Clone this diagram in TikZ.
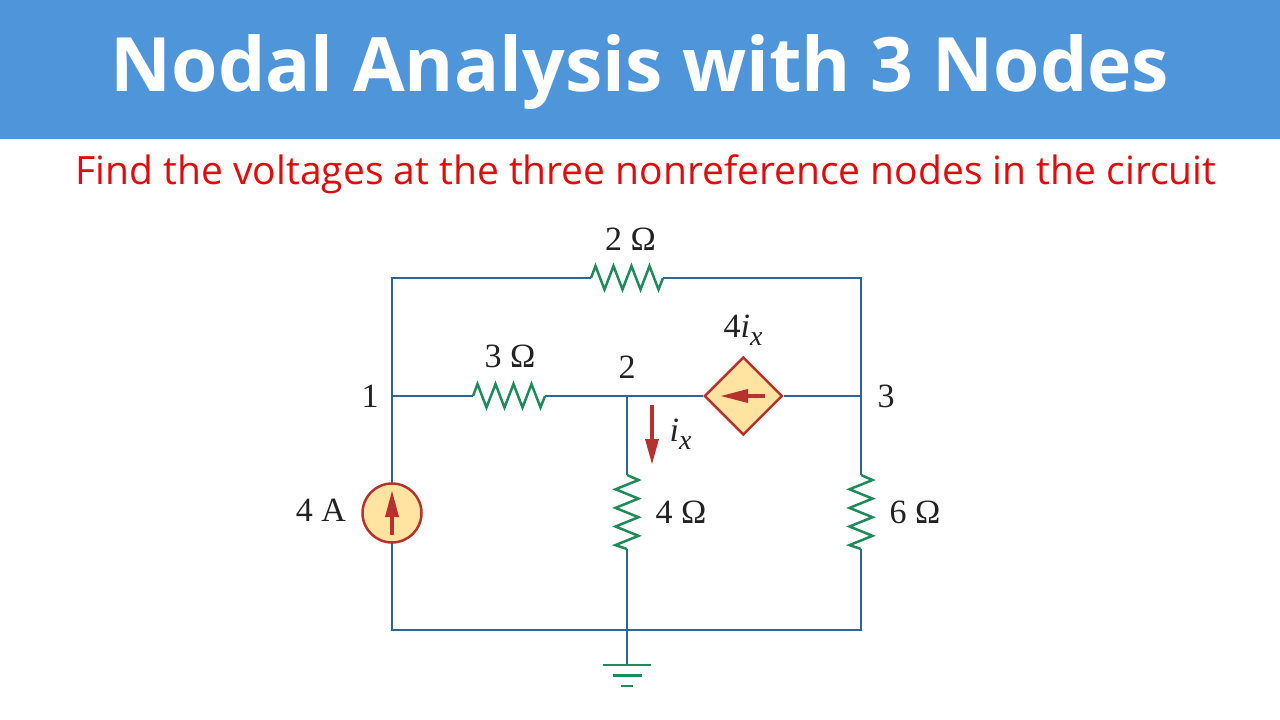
\documentclass[tikz,border=0pt]{standalone}
\usepackage{fontspec}
\setmainfont{Liberation Serif}
\newfontfamily\headfont{Open Sans}
\usetikzlibrary{shapes.geometric}
\definecolor{wirec}{HTML}{2F6496}
\definecolor{resc}{HTML}{1F8A5A}
\definecolor{srcfill}{HTML}{FFE3A0}
\definecolor{srcline}{HTML}{B5322E}
\definecolor{band}{HTML}{4F95D9}
\definecolor{subred}{HTML}{E00C0C}
\definecolor{inkc}{HTML}{222222}
\newcommand{\subx}{\raisebox{-8.5pt}{\fontsize{28}{30}\selectfont\textit{x}}}
\tikzset{
  x=1pt,y=-1pt,
  wire/.style={draw=wirec,line width=2.5pt,line join=miter},
  res/.style={draw=resc,line width=2.5pt,line join=miter},
  gnd/.style={draw=resc,line width=2.5pt},
  srcarrow/.style={draw=srcline,line width=3.5pt},
  srchead/.style={fill=srcline,draw=none},
  lab/.style={anchor=base,font=\fontsize{34}{36}\selectfont,text=inkc,inner sep=0pt,outer sep=0pt},
  csrc/.style={circle,draw=srcline,fill=srcfill,line width=2.5pt,minimum size=59pt,inner sep=0pt},
  dsrc/.style={diamond,draw=srcline,fill=srcfill,line width=2.5pt,minimum size=78pt,inner sep=0pt}
}
\begin{document}
\begin{tikzpicture}
\useasboundingbox (0,0) rectangle (1280,720);
\fill[white] (0,0) rectangle (1280,720);
\fill[band] (0,0) rectangle (1280,139);
\node[anchor=base,inner sep=0pt,text=white,font=\fontsize{75}{77}\selectfont\headfont\bfseries] (title) at (640,91) {Nodal Analysis with 3 Nodes};
\node[anchor=base,inner sep=0pt,text=subred,font=\fontsize{39}{41}\selectfont\headfont] (subtitle) at (646,184) {Find the voltages at the three nonreference nodes in the circuit};
% junctions
\coordinate (tl) at (392,278);
\coordinate (tr) at (861,278);
\coordinate (n1) at (392,396);
\coordinate (n2) at (627,396);
\coordinate (n3) at (861,396);
\coordinate (bl) at (392,630);
\coordinate (bm) at (627,630);
\coordinate (br) at (861,630);
\coordinate (g) at (627,665);
% resistor ends
\coordinate (r2a) at (591,278);   \coordinate (r2b) at (663,278);
\coordinate (r3a) at (473,396); \coordinate (r3b) at (545,396);
\coordinate (r4a) at (627,475);   \coordinate (r4b) at (627,549);
\coordinate (r6a) at (861,475);   \coordinate (r6b) at (861,549);
% sources
\draw[wire] (r2a) -- (tl) -- (bl) -- (br) -- (r6b);
\node[csrc] (is) at (392,513) {};
\node[dsrc] (ds) at (743.3,396) {};
% wires
\draw[wire] (r2b) -- (tr) -- (r6a);
\draw[wire] (n1) -- (r3a);
\draw[wire] (r3b) -- (ds.west);
\draw[wire] (ds.east) -- (n3);
\draw[wire] (n2) -- (r4a);
\draw[wire] (r4b) -- (bm) -- (g);
% resistors
\draw[res] (r2a) -- ++(4.5,-12) -- ++(9,23.5) -- ++(9,-23.5) -- ++(9,23.5) -- ++(9,-23.5) -- ++(9,23.5) -- ++(9,-23.5) -- ++(9,23.5) -- (r2b);
\draw[res] (r3a) -- ++(4.5,-12) -- ++(9,23.5) -- ++(9,-23.5) -- ++(9,23.5) -- ++(9,-23.5) -- ++(9,23.5) -- ++(9,-23.5) -- ++(9,23.5) -- (r3b);
\draw[res] (r4a) -- ++(11.5,5) -- ++(-23,9.3) -- ++(23,9.3) -- ++(-23,9.3) -- ++(23,9.3) -- ++(-23,9.3) -- ++(23,9.3) -- ++(-23,9.3) -- (r4b);
\draw[res] (r6a) -- ++(11.5,5) -- ++(-23,9.3) -- ++(23,9.3) -- ++(-23,9.3) -- ++(23,9.3) -- ++(-23,9.3) -- ++(23,9.3) -- ++(-23,9.3) -- (r6b);
% ground
\draw[gnd] (603,665) -- (651,665);
\draw[gnd] (612.5,675.7) -- (641.5,675.7);
\draw[gnd] (621,686) -- (633,686);
% source arrows
\draw[srcarrow] (392,535) -- (392,515);
\fill[srchead] (392,491) -- (399,517) -- (385,517) -- cycle;
\draw[srcarrow] (765,396) -- (746,396);
\fill[srchead] (721,396) -- (748,389) -- (748,403) -- cycle;
\draw[srcarrow] (652,405) -- (652,441);
\fill[srchead] (652,464) -- (645,439) -- (659,439) -- cycle;
% labels
\node[lab] (l2o) at (630.5,250) {2 Ω};
\node[lab] (l3o) at (510,367) {3 Ω};
\node[lab] (ln2) at (627,378) {2};
\node[lab] (ln1) at (370,407) {1};
\node[lab] (ln3) at (886,407) {3};
\node[lab] (l4i) at (743,337) {4\textit{i}\subx};
\node[lab] (lix) at (680.5,441) {\textit{i}\subx};
\node[lab] (l4a) at (321,521) {4 A};
\node[lab] (l4o) at (681,523) {4 Ω};
\node[lab] (l6o) at (915,523) {6 Ω};
\end{tikzpicture}
\end{document}
